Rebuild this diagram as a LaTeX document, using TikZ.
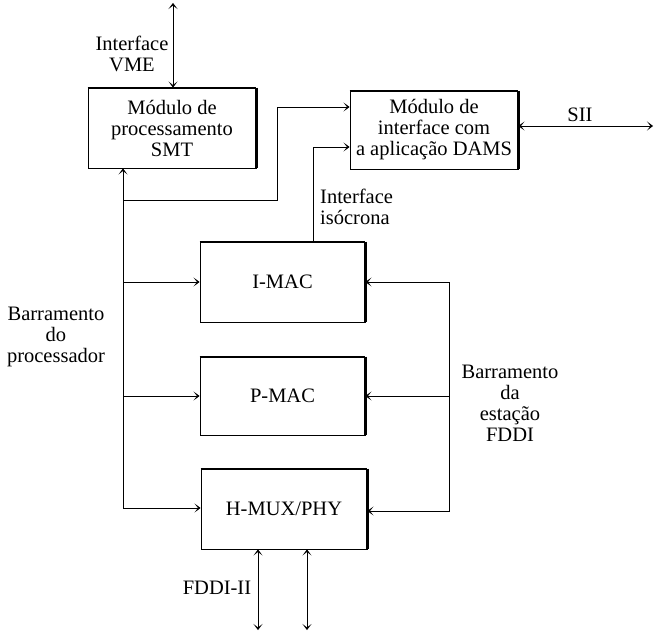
\documentclass[tikz,border=0pt]{standalone}
\usepackage{fontspec}
\setmainfont{Liberation Serif}
\usetikzlibrary{arrows.meta}
\begin{document}
\begin{tikzpicture}[x=1pt,y=-1pt,
  >={Stealth[length=6pt,width=9pt,inset=3.5pt]},
  conn/.style={line width=0.8pt},
  blockbox/.style={draw,line width=0.9pt,minimum height=80pt,inner sep=0pt,align=center},
  lbl/.style={inner sep=0pt,align=center},
  every node/.append style={font=\fontsize{20.5}{21}\selectfont}]
\useasboundingbox (0,0) rectangle (654,634);

% blocks
\node[blockbox,minimum width=168pt] (smt) at (172,128) {Módulo de\\processamento\\SMT};
\node[blockbox,minimum width=168pt,minimum height=78pt] (dams) at (434,130) {Módulo de\\interface com\\a aplicação DAMS};
\node[blockbox,minimum width=165pt] (imac) at (282.5,282) {I-MAC};
\node[blockbox,minimum width=165pt,minimum height=78pt] (pmac) at (282.5,396) {P-MAC};
\node[blockbox,minimum width=166pt] (hmux) at (284,509) {H-MUX/PHY};

% heavier top and right-hand edges of the blocks
\foreach \b in {smt,dams,imac,pmac,hmux}{
  \draw[line width=1.6pt] (\b.north west) -- (\b.north east);
  \draw[line width=2.2pt] (\b.north east) -- (\b.south east);
}

% free ends and corners
\coordinate (vme) at (173,3);
\coordinate (sii) at (653,126);
\coordinate (pb) at (123,508);
\coordinate (j1) at (123,200);
\coordinate (j2) at (277,107);
\coordinate (iso) at (313,147);
\coordinate (sb) at (449,511);
\coordinate (f1) at (258,630);
\coordinate (f2) at (307,630);

% VME interface
\draw[conn,<->] (vme) -- (vme |- smt.north);
% SII
\draw[conn,<->] (dams.east |- sii) -- (sii);
% processor bus
\draw[conn,<->] (smt.south -| pb) -- (pb) -- (pb -| hmux.west);
\draw[conn,->] (pb |- imac.west) -- (imac.west);
\draw[conn,->] (pb |- pmac.west) -- (pmac.west);
\draw[conn,->] (j1) -| (j2) -- (j2 -| dams.west);
% isochronous interface
\draw[conn,->] (iso |- imac.north) -- (iso) -- (iso -| dams.west);
% FDDI station bus
\draw[conn,<->] (imac.east) -- (imac.east -| sb) -- (sb) -- (sb -| hmux.east);
\draw[conn,->] (sb |- pmac.east) -- (pmac.east);
% FDDI-II links
\draw[conn,<->] (f1 |- hmux.south) -- (f1);
\draw[conn,<->] (f2 |- hmux.south) -- (f2);

% labels
\node[lbl] (lvme) at (132,54) {Interface\\VME};
\node[lbl] (lsii) at (580,115) {SII};
\node[lbl,anchor=west,align=left] (liso) at (320,207) {Interface\\isócrona};
\node[lbl] (lproc) at (56,337) {Barramento\\do\\processador};
\node[lbl] (lfddi) at (510,403) {Barramento\\da\\estação\\FDDI};
\node[lbl] (lii) at (217,588) {FDDI-II};
\end{tikzpicture}
\end{document}
